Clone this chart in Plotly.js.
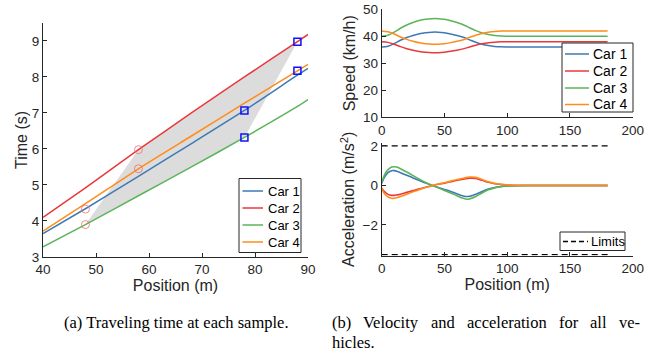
<!DOCTYPE html>
<html>
<head>
<meta charset="utf-8">
<script src="https://cdn.plot.ly/plotly-3.0.1.min.js"></script>
<style>html,body{margin:0;padding:0;background:#fff;}#chart{width:666px;height:353px;}</style>
</head>
<body>
<div id="chart"></div>
<script>
// ---------- data ----------
const carNames = ['Car 1', 'Car 2', 'Car 3', 'Car 4'];
const carColors = ['#3d7ab5', '#e8383b', '#5bb45a', '#ff8c1a'];

// (a) travel time vs position
const timePos = [40, 48, 58, 68, 78, 88, 90];
const timeCar1 = [3.65, 4.34, 5.24, 6.15, 7.07, 8.05, 8.24];
const timeCar2 = [4.10, 4.92, 5.98, 7.00, 8.00, 8.98, 9.18];
const timeCar3 = [3.28, 3.90, 4.70, 5.50, 6.32, 7.18, 7.37];
const timeCar4 = [3.72, 4.48, 5.45, 6.36, 7.27, 8.17, 8.35];
const circlePos = [48, 48, 58, 58];
const circleTime = [3.90, 4.33, 5.45, 5.98];
const squarePos = [78, 78, 88, 88];
const squareTime = [6.32, 7.07, 8.17, 8.98];
const regionPos = [48, 58, 88, 78, 48];
const regionTime = [3.90, 5.98, 8.98, 6.32, 3.90];

// (b) speed vs position
const speedPos = [0, 5, 10, 15, 20, 25, 30, 35, 40, 45, 50, 55, 60, 65, 70, 75, 80, 85, 90, 95, 100, 110, 120, 140, 160, 180];
const speedCar1 = [36.0, 36.34, 37.29, 38.52, 39.53, 40.31, 40.93, 41.32, 41.54, 41.54, 41.32, 40.87, 40.31, 39.64, 38.69, 37.79, 37.06, 36.56, 36.25, 36.08, 36.03, 36.0, 36.0, 36.0, 36.0, 36.0];
const speedCar2 = [38.0, 37.75, 37.06, 36.16, 35.42, 34.84, 34.39, 34.11, 33.94, 33.94, 34.11, 34.43, 34.84, 35.34, 36.03, 36.69, 37.22, 37.59, 37.82, 37.94, 37.98, 38.0, 38.0, 38.0, 38.0, 38.0];
const speedCar3 = [40.0, 40.4, 41.52, 42.97, 44.16, 45.08, 45.81, 46.27, 46.53, 46.53, 46.27, 45.74, 45.08, 44.29, 43.17, 42.11, 41.25, 40.66, 40.30, 40.10, 40.03, 40.0, 40.0, 40.0, 40.0, 40.0];
const speedCar4 = [42.0, 41.7, 40.85, 39.75, 38.85, 38.15, 37.6, 37.25, 37.05, 37.05, 37.25, 37.65, 38.15, 38.75, 39.6, 40.4, 41.05, 41.5, 41.78, 41.93, 41.98, 42.0, 42.0, 42.0, 42.0, 42.0];

// (b) acceleration vs position
const accPos = [0, 2, 5, 8, 10, 12, 15, 20, 25, 30, 35, 40, 45, 50, 55, 60, 65, 68, 70, 75, 80, 85, 90, 95, 100, 110, 120, 140, 160, 180];
const accCar1 = [0.1, 0.4, 0.65, 0.75, 0.75, 0.72, 0.65, 0.52, 0.38, 0.25, 0.12, 0.01, -0.1, -0.2, -0.3, -0.42, -0.53, -0.56, -0.55, -0.45, -0.3, -0.18, -0.1, -0.05, -0.02, 0, 0, 0, 0, 0];
const accCar2 = [-0.12, -0.3, -0.45, -0.5, -0.5, -0.48, -0.44, -0.35, -0.26, -0.17, -0.09, -0.01, 0.06, 0.12, 0.19, 0.26, 0.32, 0.35, 0.37, 0.35, 0.26, 0.16, 0.09, 0.05, 0.02, 0, 0, 0, 0, 0];
const accCar3 = [0.12, 0.5, 0.8, 0.93, 0.95, 0.93, 0.85, 0.68, 0.5, 0.32, 0.15, 0.01, -0.12, -0.25, -0.38, -0.52, -0.65, -0.7, -0.68, -0.56, -0.38, -0.22, -0.12, -0.06, -0.03, -0.01, 0, 0, 0, 0];
const accCar4 = [-0.14, -0.4, -0.58, -0.65, -0.65, -0.62, -0.56, -0.44, -0.32, -0.21, -0.1, -0.01, 0.07, 0.14, 0.22, 0.3, 0.37, 0.41, 0.43, 0.41, 0.3, 0.19, 0.11, 0.06, 0.03, 0, 0, 0, 0, 0];
const limitPos = [0, 180];
const accUpper = [2, 2];
const accLower = [-3.5, -3.5];
const limitName = 'Limits';

const captionA = '(a) Traveling time at each sample.';
const captionB1 = '(b) Velocity and acceleration for all ve-';
const captionB2 = 'hicles.';

// ---------- helpers ----------
const W = 666, H = 353;
const FONT = 'Liberation Sans, Arial, Helvetica, sans-serif';
const SERIF = 'Liberation Serif, Times New Roman, serif';
const AX = '#262626';
const px = v => v / W;
const py = v => (H - v) / H;

const traces = [];
traces.push({x: regionPos, y: regionTime, xaxis: 'x', yaxis: 'y', type: 'scatter', mode: 'lines',
  fill: 'toself', fillcolor: '#dcdcdc', line: {width: 0, color: '#dcdcdc'}, showlegend: false, hoverinfo: 'skip'});

const timeSeries = [timeCar1, timeCar2, timeCar3, timeCar4];
timeSeries.forEach((t, i) => traces.push({x: timePos, y: t, xaxis: 'x', yaxis: 'y', type: 'scatter', mode: 'lines',
  line: {color: carColors[i], width: 1.5, shape: 'spline', smoothing: 0.6}, name: carNames[i], showlegend: false}));

traces.push({x: circlePos, y: circleTime, xaxis: 'x', yaxis: 'y', type: 'scatter', mode: 'markers',
  marker: {symbol: 'circle-open', size: 8, color: 'rgba(240,110,110,0.8)', line: {width: 1}}, showlegend: false});
traces.push({x: squarePos, y: squareTime, xaxis: 'x', yaxis: 'y', type: 'scatter', mode: 'markers',
  marker: {symbol: 'square-open', size: 7, color: '#1010ff', line: {width: 1.5}}, showlegend: false});

const speedSeries = [speedCar1, speedCar2, speedCar3, speedCar4];
speedSeries.forEach((s, i) => traces.push({x: speedPos, y: s, xaxis: 'x2', yaxis: 'y2', type: 'scatter', mode: 'lines',
  line: {color: carColors[i], width: 1.5, shape: 'spline', smoothing: 0.8}, name: carNames[i], showlegend: false}));

const accSeries = [accCar1, accCar2, accCar3, accCar4];
accSeries.forEach((a, i) => traces.push({x: accPos, y: a, xaxis: 'x3', yaxis: 'y3', type: 'scatter', mode: 'lines',
  line: {color: carColors[i], width: 1.6, shape: 'spline', smoothing: 0.8}, name: carNames[i], showlegend: false}));

traces.push({x: limitPos, y: accUpper, xaxis: 'x3', yaxis: 'y3', type: 'scatter', mode: 'lines',
  line: {color: '#000', width: 1.2, dash: '6px,4px'}, name: limitName, showlegend: false});
traces.push({x: limitPos, y: accLower, xaxis: 'x3', yaxis: 'y3', type: 'scatter', mode: 'lines',
  line: {color: '#000', width: 1.2, dash: '6px,4px'}, name: limitName, showlegend: false});

// ---------- legends (drawn as boxes, sample lines and texts) ----------
const shapes = [];
const annotations = [];
function drawLegend(box, rows, sample, textX, fontSize) {
  shapes.push({type: 'rect', xref: 'paper', yref: 'paper', x0: px(box[0]), x1: px(box[1]), y0: py(box[3]), y1: py(box[2]),
    fillcolor: '#fff', line: {color: AX, width: 1}, layer: 'above'});
  rows.forEach(r => {
    shapes.push({type: 'line', xref: 'paper', yref: 'paper', x0: px(sample[0]), x1: px(sample[1]), y0: py(r.y), y1: py(r.y),
      line: {color: r.color, width: 1.5, dash: r.dash || 'solid'}, layer: 'above'});
    annotations.push({text: r.name, xref: 'paper', yref: 'paper', x: px(textX), y: py(r.y), xanchor: 'left', yanchor: 'middle',
      showarrow: false, font: {family: FONT, size: fontSize, color: '#000'}});
  });
}
drawLegend([239, 301, 178.5, 252.5], carNames.map((n, i) => ({name: n, color: carColors[i], y: [191, 208, 225, 242][i]})),
  [242.5, 263], 265.5, 13);
drawLegend([562, 633, 43, 112], carNames.map((n, i) => ({name: n, color: carColors[i], y: [54, 71, 88, 104.5][i]})),
  [565, 589], 590.5, 14);
drawLegend([560, 625, 232, 250.5], [{name: limitName, color: '#000', dash: '5px,3px', y: 241.5}], [563, 588], 589, 13);

// ---------- captions ----------
const capSize = 16.5;
const capFont = {family: SERIF, size: capSize, color: '#000'};
annotations.push({text: captionA, xref: 'paper', yref: 'paper', x: px(62), y: py(322), xanchor: 'left', yanchor: 'middle',
  showarrow: false, font: capFont});
// justified first line of caption (b): spread words between x=330 and x=638
(function () {
  const ctx = document.createElement('canvas').getContext('2d');
  ctx.font = capSize + 'px "Liberation Serif", "Times New Roman", serif';
  const words = captionB1.split(' ');
  const widths = words.map(w => ctx.measureText(w).width);
  const left = 330, right = 638;
  const gap = (right - left - widths.reduce((a, b) => a + b, 0)) / (words.length - 1);
  let xPos = left;
  words.forEach((w, i) => {
    annotations.push({text: w, xref: 'paper', yref: 'paper', x: px(xPos), y: py(322), xanchor: 'left', yanchor: 'middle',
      showarrow: false, font: capFont});
    xPos += widths[i] + gap;
  });
})();
annotations.push({text: captionB2, xref: 'paper', yref: 'paper', x: px(330), y: py(342), xanchor: 'left', yanchor: 'middle',
  showarrow: false, font: capFont});

// ---------- layout ----------
function axis(extra) {
  return Object.assign({
    showline: true, linecolor: AX, linewidth: 1, ticks: 'inside', ticklen: 4, tickcolor: AX, tickwidth: 1,
    showgrid: false, zeroline: false, mirror: false, automargin: false,
    tickfont: {family: FONT, size: 13.5, color: AX}
  }, extra);
}
const titleFont = {family: FONT, size: 16, color: AX};

const layout = {
  width: W, height: H, margin: {l: 0, r: 0, t: 0, b: 0},
  paper_bgcolor: '#fff', plot_bgcolor: 'rgba(0,0,0,0)', showlegend: false,
  xaxis: axis({domain: [0.0646, 0.4625], range: [40, 90], tickvals: [40, 50, 60, 70, 80, 90], anchor: 'y',
    title: {text: 'Position (m)', font: titleFont, standoff: 3}}),
  yaxis: axis({domain: [0.272, 0.935], range: [3, 9.5], tickvals: [3, 4, 5, 6, 7, 8, 9], anchor: 'x',
    title: {text: 'Time (s)', font: titleFont, standoff: 0}}),
  xaxis2: axis({domain: [0.5731, 0.950], range: [0, 200], tickvals: [0, 50, 100, 150, 200], anchor: 'y2'}),
  yaxis2: axis({domain: [0.6677, 0.9737], range: [10, 50], tickvals: [10, 20, 30, 40, 50], anchor: 'x2',
    title: {text: 'Speed (km/h)', font: titleFont, standoff: 3}}),
  xaxis3: axis({domain: [0.5731, 0.950], range: [0, 200], tickvals: [0, 50, 100, 150, 200], anchor: 'y3',
    title: {text: 'Position (m)', font: titleFont, standoff: 3}}),
  yaxis3: axis({domain: [0.2759, 0.5949], range: [-3.55, 2.15], tickvals: [-2, 0, 2], anchor: 'x3',
    title: {text: 'Acceleration (m/s<sup>2</sup>)', font: titleFont, standoff: 3}}),
  shapes: shapes,
  annotations: annotations
};

Plotly.newPlot('chart', traces, layout, {staticPlot: true, displayModeBar: false});
</script>
</body>
</html>
